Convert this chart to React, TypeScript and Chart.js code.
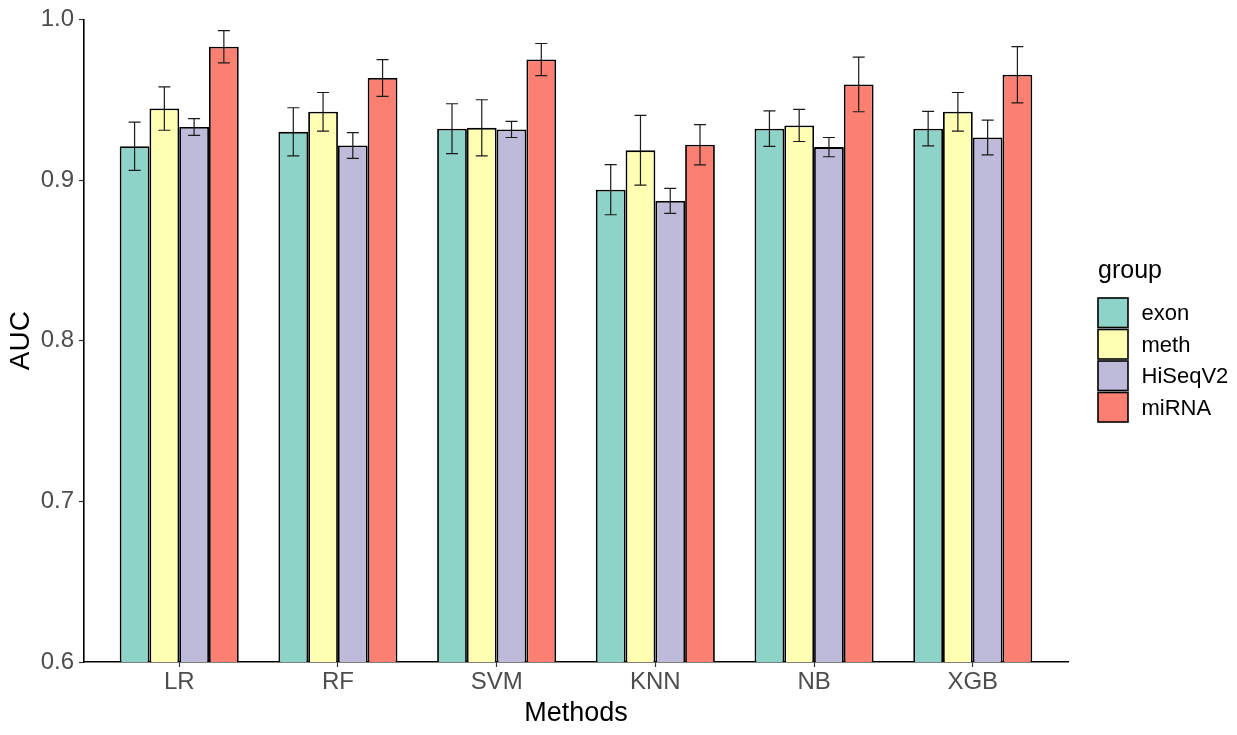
import React, { useEffect, useRef } from "react";
import { Chart, registerables } from "chart.js";

Chart.register(...registerables);

const methods = ["LR", "RF", "SVM", "KNN", "NB", "XGB"];
const groups = ["exon", "meth", "HiSeqV2", "miRNA"];
const groupColors = ["#8DD3C7", "#FFFFB3", "#BEBADA", "#FB8072"];

const exonAUC = [0.921, 0.930, 0.932, 0.894, 0.932, 0.932];
const exonErr = [0.015, 0.015, 0.0155, 0.0156, 0.011, 0.0107];
const methAUC = [0.9445, 0.9425, 0.9325, 0.9185, 0.934, 0.9425];
const methErr = [0.0135, 0.012, 0.0175, 0.0217, 0.01, 0.012];
const hiseqAUC = [0.933, 0.9215, 0.9315, 0.887, 0.9205, 0.9265];
const hiseqErr = [0.0052, 0.008, 0.005, 0.0078, 0.006, 0.0108];
const mirnaAUC = [0.983, 0.9635, 0.975, 0.922, 0.9595, 0.9655];
const mirnaErr = [0.01, 0.0114, 0.01, 0.0125, 0.017, 0.0175];

const yTicks = [0.6, 0.7, 0.8, 0.9, 1.0];

const seriesValues = [exonAUC, methAUC, hiseqAUC, mirnaAUC];
const seriesErrors = [exonErr, methErr, hiseqErr, mirnaErr];

const FONT = "'Liberation Sans', Arial, Helvetica, sans-serif";

const errorBarPlugin = {
  id: "errorBars",
  afterDatasetsDraw(chart: any) {
    const ctx = chart.ctx;
    const yScale = chart.scales.y;
    ctx.save();
    ctx.strokeStyle = "#1a1a1a";
    ctx.lineWidth = 1.2;
    chart.data.datasets.forEach((ds: any, di: number) => {
      const meta = chart.getDatasetMeta(di);
      meta.data.forEach((bar: any, i: number) => {
        const v = seriesValues[di][i];
        const e = seriesErrors[di][i];
        const yt = yScale.getPixelForValue(v + e);
        const yb = yScale.getPixelForValue(v - e);
        const x = bar.x;
        const half = 6;
        ctx.beginPath();
        ctx.moveTo(x, yt);
        ctx.lineTo(x, yb);
        ctx.moveTo(x - half, yt);
        ctx.lineTo(x + half, yt);
        ctx.moveTo(x - half, yb);
        ctx.lineTo(x + half, yb);
        ctx.stroke();
      });
    });
    ctx.restore();
  },
};

const legendPlugin = {
  id: "customLegend",
  afterDraw(chart: any) {
    const ctx = chart.ctx;
    const area = chart.chartArea;
    const x0 = area.right + 30;
    const top = 298;
    const pitch = 31.5;
    ctx.save();
    ctx.fillStyle = "#000";
    ctx.font = `25px ${FONT}`;
    ctx.textBaseline = "alphabetic";
    ctx.textAlign = "left";
    ctx.fillText("group", x0, 278);
    ctx.font = `22px ${FONT}`;
    groups.forEach((g, i) => {
      const y = top + i * pitch;
      ctx.fillStyle = groupColors[i];
      ctx.fillRect(x0, y, 30, 29.5);
      ctx.strokeStyle = "#000";
      ctx.lineWidth = 1.6;
      ctx.strokeRect(x0, y, 30, 29.5);
      ctx.fillStyle = "#000";
      ctx.fillText(g, x0 + 43.5, y + 14.75 + 7.7);
    });
    ctx.restore();
  },
};

export default function App() {
  const canvasRef = useRef<HTMLCanvasElement | null>(null);

  useEffect(() => {
    document.body.style.margin = "0";
    const canvas = canvasRef.current;
    if (!canvas) return;
    Chart.defaults.font.family = FONT;

    const datasets = groups.map((g, gi) => ({
      label: g,
      data: methods.map((_, i) => ({ x: i, y: seriesValues[gi][i] })),
      backgroundColor: groupColors[gi],
      borderColor: "#000",
      borderWidth: 1.8,
      categoryPercentage: 0.75,
      barPercentage: 1,
    }));

    const chart = new Chart(canvas, {
      type: "bar",
      data: { datasets } as any,
      options: {
        animation: false,
        responsive: false,
        devicePixelRatio: 1,
        layout: { padding: { top: 19, right: 169, bottom: 0, left: 0 } },
        plugins: {
          legend: { display: false },
          tooltip: { enabled: false },
        },
        scales: {
          x: {
            type: "linear",
            min: -0.6,
            max: 5.6,
            offset: false,
            afterBuildTicks: (scale: any) => {
              scale.ticks = methods.map((_, i) => ({ value: i }));
            },
            afterFit: (scale: any) => {
              scale.height = 73;
            },
            ticks: {
              autoSkip: false,
              maxRotation: 0,
              padding: 1,
              color: "#4D4D4D",
              font: { size: 24, family: FONT },
              callback: (v: any) => methods[Math.round(Number(v))] ?? "",
            },
            grid: {
              display: true,
              offset: false,
              drawOnChartArea: false,
              drawTicks: true,
              tickLength: 5,
              tickWidth: 1.2,
              tickColor: "#333333",
            },
            border: { display: true, color: "#000", width: 1.6 },
            title: {
              display: true,
              text: "Methods",
              color: "#000",
              font: { size: 27, family: FONT },
              padding: { top: 0, bottom: 5 },
            },
          },
          y: {
            type: "linear",
            min: 0.6,
            max: 1.0,
            afterBuildTicks: (scale: any) => {
              scale.ticks = yTicks.map((v) => ({ value: v }));
            },
            afterFit: (scale: any) => {
              scale.width = 84;
            },
            ticks: {
              padding: 5,
              color: "#4D4D4D",
              font: { size: 24, family: FONT },
              callback: (v: any) => Number(v).toFixed(1),
            },
            grid: {
              display: true,
              drawOnChartArea: false,
              drawTicks: true,
              tickLength: 5,
              tickWidth: 1.2,
              tickColor: "#333333",
            },
            border: { display: true, color: "#000", width: 1.6 },
            title: {
              display: true,
              text: "AUC",
              color: "#000",
              font: { size: 28, family: FONT },
              padding: { top: 4, bottom: 0 },
            },
          },
        },
      } as any,
      plugins: [errorBarPlugin, legendPlugin],
    });

    return () => {
      chart.destroy();
    };
  }, []);

  return (
    <div style={{ width: 1237, height: 735 }}>
      <canvas ref={canvasRef} width={1237} height={735} />
    </div>
  );
}
